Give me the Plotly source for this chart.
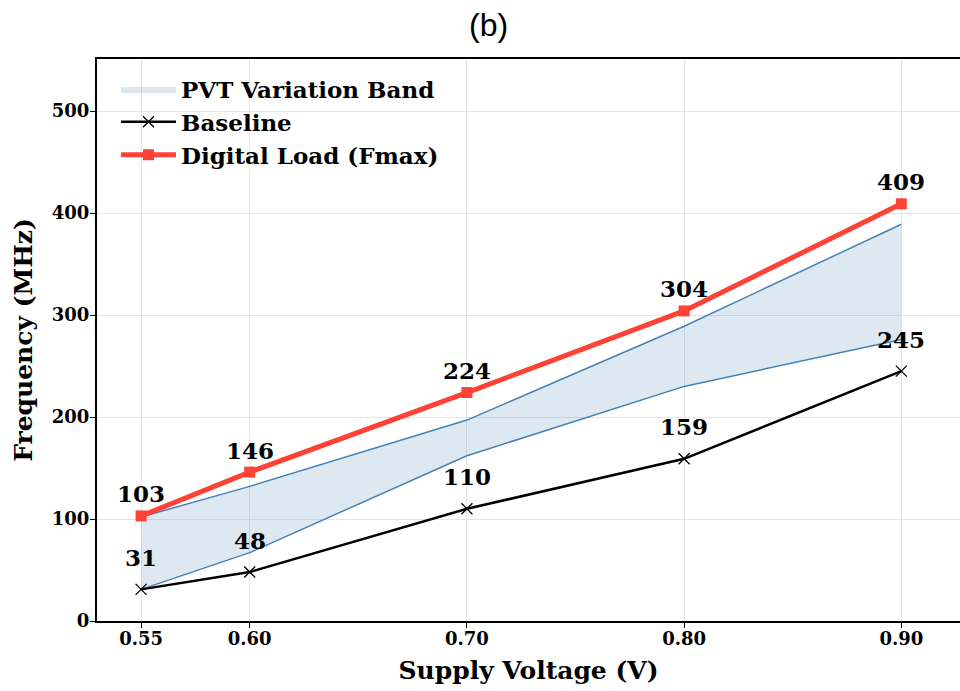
import plotly.graph_objects as go

voltage = [0.55, 0.60, 0.70, 0.80, 0.90]
baseline = [31, 48, 110, 159, 245]
fmax = [103, 146, 224, 304, 409]
band_lower = [31, 67, 162, 230, 276]
band_upper = [102, 132, 197, 289, 389]
x_ticks = [0.55, 0.60, 0.70, 0.80, 0.90]
x_tick_labels = ["0.55", "0.60", "0.70", "0.80", "0.90"]
y_ticks = [0, 100, 200, 300, 400, 500]

SERIF = "DejaVu Serif"
fig = go.Figure()

fig.add_trace(go.Scatter(x=voltage, y=band_lower, mode="lines", line=dict(width=0),
                         showlegend=False, hoverinfo="skip"))
fig.add_trace(go.Scatter(x=voltage, y=band_upper, mode="lines", line=dict(width=0),
                         fill="tonexty", fillcolor="rgba(70,130,180,0.18)",
                         name="PVT Variation Band"))
fig.add_trace(go.Scatter(x=voltage, y=band_lower, mode="lines",
                         line=dict(color="#4682B4", width=1.5), showlegend=False))
fig.add_trace(go.Scatter(x=voltage, y=band_upper, mode="lines",
                         line=dict(color="#4682B4", width=1.5), showlegend=False))
fig.add_trace(go.Scatter(x=voltage, y=baseline, mode="lines+markers", name="Baseline",
                         line=dict(color="black", width=2.5),
                         marker=dict(symbol="x-thin", size=11,
                                     line=dict(color="black", width=1.3))))
fig.add_trace(go.Scatter(x=voltage, y=fmax, mode="lines+markers", name="Digital Load (Fmax)",
                         line=dict(color="#FF4136", width=5),
                         marker=dict(symbol="square", size=11, color="#FF4136")))

for xv, yv in zip(voltage, fmax):
    fig.add_annotation(x=xv, y=yv, text=str(yv), showarrow=False, yshift=22,
                       font=dict(family=SERIF, size=23, color="black", weight="bold"))
for xv, yv in zip(voltage, baseline):
    fig.add_annotation(x=xv, y=yv, text=str(yv), showarrow=False, yshift=32,
                       font=dict(family=SERIF, size=23, color="black", weight="bold"))

fig.add_annotation(x=0.454, y=1, xref="paper", yref="paper", yshift=34,
                   yanchor="middle", text="(b)", showarrow=False,
                   font=dict(family="Liberation Sans", size=32, color="black"))

fig.update_layout(
    width=960, height=691,
    margin=dict(l=97, r=0, t=59, b=70),
    plot_bgcolor="white", paper_bgcolor="white",
    showlegend=True,
    legend=dict(x=0.022, y=0.985, xanchor="left", yanchor="top", traceorder="normal",
                font=dict(family=SERIF, size=23, color="black", weight="bold"),
                bgcolor="rgba(255,255,255,0)", itemwidth=55, tracegroupgap=0),
    xaxis=dict(range=[0.5297, 0.927], tickvals=x_ticks, ticktext=x_tick_labels,
               showline=True, linecolor="black", linewidth=2, mirror=True,
               ticks="outside", ticklen=5, tickcolor="black", ticklabelstandoff=-5,
               showgrid=True, gridcolor="#e6e6e6", gridwidth=1, zeroline=False,
               tickfont=dict(family=SERIF, size=18, color="black", weight="bold"),
               title=dict(text="Supply Voltage (V)", standoff=14,
                          font=dict(family=SERIF, size=25, color="black", weight="bold"))),
    yaxis=dict(range=[0, 551], tickvals=y_ticks,
               showline=True, linecolor="black", linewidth=2,
               ticks="outside", ticklen=5, tickcolor="black", ticklabelstandoff=-3,
               showgrid=True, gridcolor="#e6e6e6", gridwidth=1, zeroline=False,
               tickfont=dict(family=SERIF, size=18, color="black", weight="bold"),
               title=dict(text="Frequency (MHz)", standoff=12,
                          font=dict(family=SERIF, size=25, color="black", weight="bold"))),
)

fig.write_html("out.html")
